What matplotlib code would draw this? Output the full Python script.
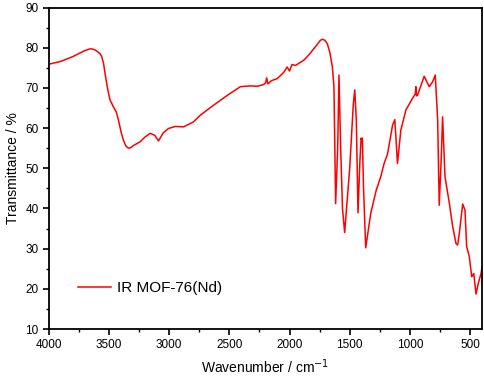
import matplotlib
matplotlib.use("Agg")
import matplotlib.pyplot as plt
from matplotlib.ticker import MultipleLocator

plt.rcParams['font.family'] = ['Liberation Sans', 'DejaVu Sans']

# IR spectrum
wavenumber = [4000, 3900, 3800, 3700, 3660, 3644, 3620, 3595, 3575, 3561, 3545, 3533,
              3510, 3492, 3464, 3440, 3422, 3400, 3381, 3360, 3339, 3320, 3300, 3242,
              3200, 3158, 3120, 3089, 3050, 3006, 2950, 2881, 2800, 2742, 2631, 2500,
              2408, 2330, 2269, 2220, 2200, 2190, 2180, 2150, 2103, 2050, 2020, 2000,
              1980, 1950, 1881, 1840, 1797, 1765, 1745, 1728, 1710, 1700, 1686, 1665,
              1644, 1631, 1617, 1600, 1589, 1575, 1560, 1542, 1500, 1470, 1458, 1445,
              1431, 1415, 1405, 1400, 1395, 1385, 1367, 1325, 1280, 1242, 1214, 1186,
              1144, 1125, 1103, 1075, 1033, 978, 955, 950, 945, 936, 881, 839, 811,
              789, 769, 756, 740, 728, 708, 672, 644, 617, 603, 589, 561, 542, 528,
              506, 486, 469, 450, 431, 408, 400]
transmittance = [75.9, 76.6, 77.8, 79.3, 79.7, 79.7, 79.5, 79.0, 78.5, 77.8, 76.0, 73.5,
                 69.5, 67.0, 65.3, 64.0, 62.0, 59.0, 57.0, 55.5, 55.0, 55.1, 55.6, 56.6,
                 57.8, 58.7, 58.2, 56.8, 58.8, 59.9, 60.4, 60.3, 61.5, 63.2, 65.7, 68.5,
                 70.3, 70.5, 70.4, 70.8, 71.2, 72.5, 71.0, 71.8, 72.3, 73.8, 75.2, 74.2,
                 75.8, 75.6, 76.9, 78.2, 79.8, 81.0, 81.8, 82.1, 81.9, 81.6, 81.0, 78.8,
                 75.2, 70.3, 41.2, 55.0, 73.2, 55.0, 40.0, 34.0, 50.0, 66.0, 69.5, 62.0,
                 38.9, 52.0, 57.5, 57.0, 57.5, 45.0, 30.2, 38.8, 44.5, 47.9, 51.2, 53.5,
                 60.7, 62.1, 51.2, 59.5, 64.5, 67.4, 68.5, 70.3, 68.0, 68.2, 72.9, 70.3,
                 71.5, 73.2, 62.0, 40.8, 52.0, 62.8, 47.9, 41.3, 35.5, 31.3, 30.9, 33.8,
                 41.1, 39.6, 30.5, 28.0, 23.0, 23.8, 18.7, 21.4, 23.9, 25.5]

fig = plt.figure(figsize=(4.84, 3.76), dpi=100)
ax = fig.add_axes([0.101, 0.125, 0.895, 0.855])

ax.plot(wavenumber, transmittance, color='#ff0000', lw=1.1, label='IR MOF-76(Nd)')

ax.set_xlim(4000, 400)
ax.set_ylim(10, 90)
ax.xaxis.set_major_locator(MultipleLocator(500))
ax.xaxis.set_minor_locator(MultipleLocator(250))
ax.yaxis.set_major_locator(MultipleLocator(10))
ax.yaxis.set_minor_locator(MultipleLocator(5))
ax.tick_params(which='major', direction='out', length=4, width=1.2, labelsize=8.5)
ax.tick_params(which='minor', direction='out', length=2.5, width=1.0)
for s in ax.spines.values():
    s.set_linewidth(1.3)

ax.set_xlabel('Wavenumber / cm$^{-1}$', fontsize=10)
ax.set_ylabel('Transmittance / %', fontsize=10)

ax.legend(loc='center left', bbox_to_anchor=(0.035, 0.128), frameon=False,
          fontsize=11, handlelength=2.2, handletextpad=0.35)

fig.savefig('out.png', dpi=100)
